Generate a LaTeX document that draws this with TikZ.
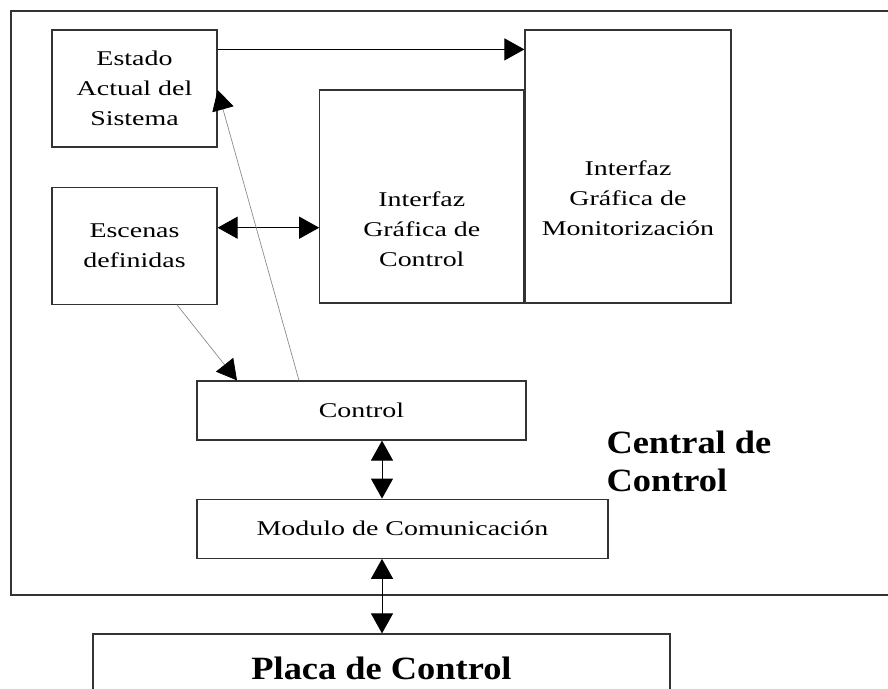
\documentclass[tikz,border=0pt]{standalone}
\usepackage{fontspec}
\setmainfont{Liberation Serif}[FakeStretch=1.33]
\newfontfamily\titlefont{Liberation Serif}[FakeStretch=1.12]
\usetikzlibrary{shapes}
\usetikzlibrary{arrows.meta}
\usetikzlibrary{calc,positioning}

\begin{document}
\begin{tikzpicture}[x=1pt, y=-1pt, >={Triangle[length=20pt,width=22pt]}]
	\tikzstyle{block}=[draw=black!80, line width=1.2pt, rectangle, inner sep=0pt,
	align=center, font=\fontsize{21}{30}\selectfont]
	\tikzstyle{boxtext}=[align=center, font=\fontsize{21}{30}\selectfont]
	\tikzstyle{title}=[align=left, font=\titlefont\bfseries\fontsize{32.5}{38}\selectfont]
	\tikzstyle{bus}=[<->, line width=1pt]
	\tikzstyle{link}=[-{Triangle[length=20pt,width=22pt,color=black]}, draw=black!45, line width=0.7pt]
	\useasboundingbox (0,0) rectangle (888,688);
	\clip (0,0) rectangle (888,688);

	\node[block, minimum width=900pt, minimum height=584pt] (central) at (461,303) {};
	\node[title, anchor=west] (centralname) at (603,461) {Central de\\Control};

	\node[block, minimum width=165pt, minimum height=117pt] (estado) at (134.5,88.5) {Estado\\Actual del\\Sistema};
	\node[block, minimum width=165pt, minimum height=117pt, below=39pt of estado] (escenas) {Escenas\\definidas};
	\node[block, minimum width=206pt, minimum height=273pt] (monitor) at (628,166.5) {};
	\node[block, minimum width=204pt, minimum height=213pt, anchor=south east] (igcontrol) at (monitor.south west) {};
	\draw ([yshift=-31.5pt]monitor.center) node[boxtext] (monitortext) {Interfaz\\Gráfica de\\Monitorización};
	\draw ([yshift=-32.5pt]igcontrol.center) node[boxtext] (igcontroltext) {Interfaz\\Gráfica de\\Control};

	\node[block, minimum width=329pt, minimum height=59pt] (control) at (361.5,410.5) {Control};
	\node[block, minimum width=411pt, minimum height=59pt, below=58pt of control.south west, anchor=north west] (modulo) {Modulo de Comunicación};
	\node[block, title, align=center, minimum width=577pt, minimum height=68pt] (placa) at (381.5,668) {Placa de Control};

	\draw[->, line width=1pt] ([yshift=-20pt]estado.north east) -- ([yshift=-20pt]monitor.north west);
	\draw[bus] ([yshift=18pt]escenas.east) -- ([yshift=18pt]escenas.east -| igcontrol.west);
	\draw[bus] ([xshift=20.5pt]control.south) -- ([xshift=20.5pt]control.south |- modulo.north);
	\draw[bus] ([xshift=-20.5pt]modulo.south) -- ([xshift=-20.5pt]modulo.south |- placa.north);

	\draw[link] ([xshift=42.5pt]escenas.south) -- ([xshift=-124.5pt]control.north);
	\draw[link] ([xshift=-62.5pt]control.north) -- ([yshift=-1.5pt]estado.east);

\end{tikzpicture}
\end{document}
